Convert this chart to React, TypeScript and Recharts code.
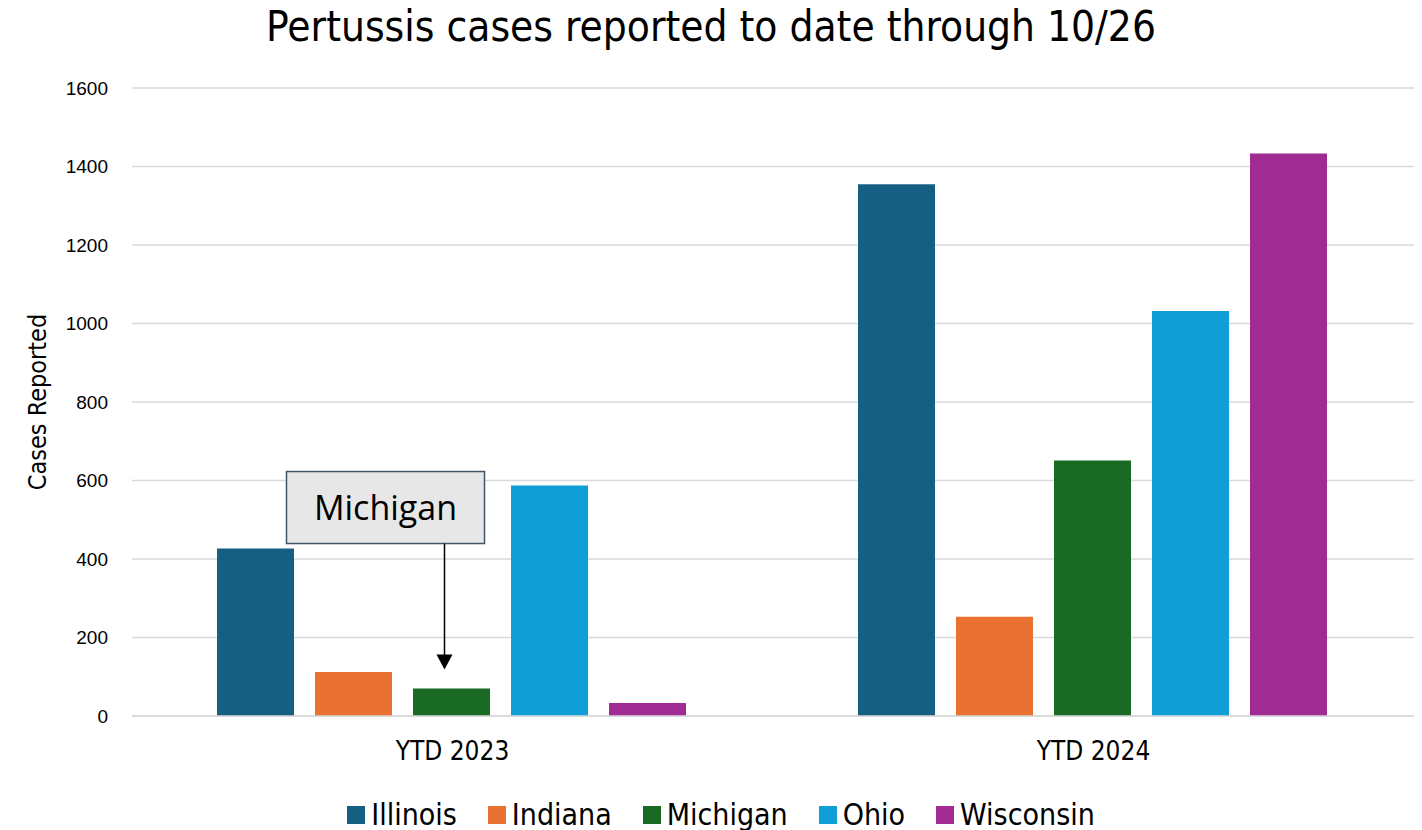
import { BarChart, Bar, XAxis, YAxis, CartesianGrid, Legend } from 'recharts';

const periods = ['YTD 2023', 'YTD 2024'];
const illinois = [427, 1355];
const indiana = [112, 253];
const michigan = [70, 651];
const ohio = [587, 1032];
const wisconsin = [33, 1433];
const yTicks = [0, 200, 400, 600, 800, 1000, 1200, 1400, 1600];

const series = [
  { key: 'Illinois', color: '#156082' },
  { key: 'Indiana', color: '#E97132' },
  { key: 'Michigan', color: '#196B24' },
  { key: 'Ohio', color: '#0F9ED5' },
  { key: 'Wisconsin', color: '#A02B93' },
];

const data = periods.map((p, i) => ({
  period: p,
  Illinois: illinois[i],
  Indiana: indiana[i],
  Michigan: michigan[i],
  Ohio: ohio[i],
  Wisconsin: wisconsin[i],
}));

const narrow = '"Liberation Sans Narrow", "DejaVu Sans Condensed", sans-serif';

// callout box + arrow pointing at the 2023 Michigan bar
const MichiganCallout = (props: any) => {
  const { x, y, width, index } = props;
  if (index !== 0) return null;
  const cx = x + width / 2 - 7;
  const tipY = y - 19;
  const boxW = 198;
  const boxH = 72;
  const boxBottom = tipY - 126;
  const boxLeft = cx - 158;
  return (
    <g>
      <rect x={boxLeft} y={boxBottom - boxH} width={boxW} height={boxH} fill="#e7e7e7" stroke="#44546a" strokeWidth={1.5} />
      <text x={boxLeft + boxW / 2} y={boxBottom - boxH / 2 + 12} textAnchor="middle" fontSize={34} fontFamily='"Open Sans", sans-serif' fill="#000">
        Michigan
      </text>
      <line x1={cx} y1={boxBottom} x2={cx} y2={tipY - 14} stroke="#000" strokeWidth={1.5} />
      <polygon points={`${cx - 8},${tipY - 15} ${cx + 8},${tipY - 15} ${cx},${tipY}`} fill="#000" />
    </g>
  );
};

const LegendContent = () => (
  <div
    style={{
      display: 'flex',
      justifyContent: 'center',
      gap: 31,
      marginLeft: 28,
      fontFamily: narrow,
      fontSize: 30,
      color: '#000',
      lineHeight: '34px',
    }}
  >
    {series.map((s) => (
      <div key={s.key} style={{ display: 'flex', alignItems: 'center', gap: 6 }}>
        <span style={{ width: 18, height: 18, background: s.color, display: 'inline-block' }} />
        <span>{s.key}</span>
      </div>
    ))}
  </div>
);

export default function App() {
  return (
    <div style={{ position: 'absolute', left: 0, top: 0, width: 1422, height: 830, background: '#fff' }}>
      <div
        style={{
          position: 'absolute',
          top: 2,
          left: 0,
          width: 1422,
          textAlign: 'center',
          fontFamily: narrow,
          fontSize: 42,
          color: '#000',
        }}
      >
        Pertussis cases reported to date through 10/26
      </div>
      <BarChart
        width={1422}
        height={830}
        data={data}
        margin={{ top: 88, right: 8, left: 0, bottom: 40 }}
        barCategoryGap={85}
        barGap={21}
      >
        <CartesianGrid vertical={false} stroke="#d9d9d9" strokeWidth={1.5} />
        <XAxis
          dataKey="period"
          tickLine={false}
          axisLine={{ stroke: '#d9d9d9', strokeWidth: 1.5 }}
          tick={{ fill: '#000', fontSize: 26, fontFamily: narrow }}
          tickMargin={20}
          height={40}
        />
        <YAxis
          domain={[0, 1600]}
          ticks={yTicks}
          width={132}
          tickLine={false}
          axisLine={false}
          tickSize={0}
          tickMargin={24}
          tick={{ fill: '#000', fontSize: 19, fontFamily: '"Liberation Sans", Arial, sans-serif' }}
          label={{
            value: 'Cases Reported',
            angle: -90,
            position: 'center',
            dx: -29,
            style: { fontSize: 25, fontFamily: narrow, fill: '#000' },
          }}
        />
        <Legend verticalAlign="bottom" wrapperStyle={{ top: 798, left: 0 }} content={<LegendContent />} />
        {series.map((s) => (
          <Bar
            key={s.key}
            dataKey={s.key}
            fill={s.color}
            isAnimationActive={false}
            label={s.key === 'Michigan' ? <MichiganCallout /> : undefined}
          />
        ))}
      </BarChart>
    </div>
  );
}
